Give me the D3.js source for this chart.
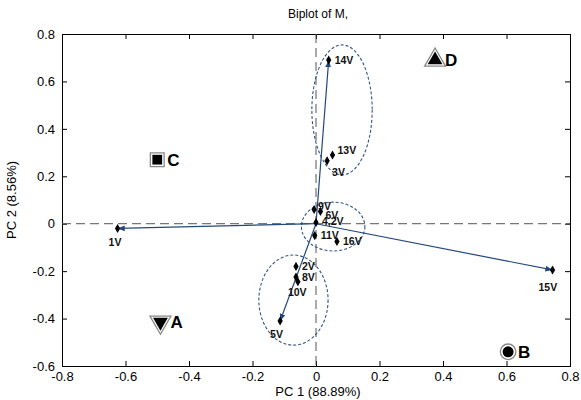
<!DOCTYPE html>
<html>
<head>
<meta charset="utf-8">
<script src="https://cdn.jsdelivr.net/npm/d3@7"></script>
<style>
  body { margin: 0; background: #fff; }
  text { font-family: "Liberation Sans", Arial, sans-serif; }
</style>
</head>
<body>
<svg id="chart" width="581" height="400"></svg>
<script>
// variable loadings (PC1, PC2)
var varNames = ["1V", "2V", "3V", "4,2V", "5V", "6V", "8V", "9V", "10V", "11V", "13V", "14V", "15V", "16V"];
var pc1 = [-0.625, -0.063, 0.035, 0.0, -0.113, 0.014, -0.063, -0.006, -0.057, -0.004, 0.052, 0.04, 0.745, 0.066];
var pc2 = [-0.02, -0.18, 0.265, 0.005, -0.41, 0.052, -0.225, 0.06, -0.245, -0.05, 0.29, 0.69, -0.195, -0.075];
// only these loadings have a drawn vector
var vectorNames = ["1V", "5V", "14V", "15V"];

// group markers
var groupNames = ["A", "B", "C", "D"];
var groupPc1 = [-0.49, 0.605, -0.5, 0.375];
var groupPc2 = [-0.415, -0.54, 0.27, 0.69];

// dashed ellipses round the clusters (centre and radii in data units)
var ellCx = [0.082, 0.054, -0.071];
var ellCy = [0.48, -0.012, -0.322];
var ellRx = [0.095, 0.1, 0.109];
var ellRy = [0.274, 0.103, 0.19];

var xTicks = [-0.8, -0.6, -0.4, -0.2, 0, 0.2, 0.4, 0.6, 0.8];
var yTicks = [-0.6, -0.4, -0.2, 0, 0.2, 0.4, 0.6, 0.8];

var LEFT = 62, RIGHT = 570, TOP = 34, BOTTOM = 366;
var BLUE = '#24487c';

// label offsets (px) where the label is not just to the right
var labelOff = {
  "1V": [-9, 14], "15V": [-14, 17], "10V": [-10, 11], "5V": [-10, 13],
  "3V": [5, 11], "13V": [5, -5], "9V": [4, -3], "6V": [5, 4], "4,2V": [6, -1]
};

var svg = d3.select('#chart');
var x = d3.scaleLinear().domain([-0.8, 0.8]).range([LEFT, RIGHT]);
var y = d3.scaleLinear().domain([-0.6, 0.8]).range([BOTTOM, TOP]);
var fmt = function (d) { return d === 0 ? '0' : d.toFixed(1) };
var idx = function (n) { return varNames.indexOf(n) };

svg.append('defs').append('marker')
  .attr('id', 'arr')
  .attr('viewBox', '0 0 10 10')
  .attr('refX', 10).attr('refY', 5)
  .attr('markerWidth', 6).attr('markerHeight', 6)
  .attr('orient', 'auto')
  .append('path').attr('d', 'M0,1 L10,5 L0,9 Z').attr('fill', BLUE);

// axes, MATLAB style with inward ticks on all four sides
svg.append('g').attr('transform', 'translate(0,' + BOTTOM + ')')
  .call(d3.axisBottom(x).tickValues(xTicks).tickFormat(fmt).tickSize(-5).tickPadding(6));
svg.append('g').attr('transform', 'translate(0,' + TOP + ')')
  .call(d3.axisTop(x).tickValues(xTicks).tickFormat('').tickSize(-5));
svg.append('g').attr('transform', 'translate(' + LEFT + ',0)')
  .call(d3.axisLeft(y).tickValues(yTicks).tickFormat(fmt).tickSize(-5).tickPadding(7));
svg.append('g').attr('transform', 'translate(' + RIGHT + ',0)')
  .call(d3.axisRight(y).tickValues(yTicks).tickFormat('').tickSize(-5));
svg.selectAll('.tick text').attr('font-size', 13).attr('fill', '#000')
  .style('font-family', '"Liberation Sans", Arial, sans-serif');
svg.selectAll('.domain').attr('stroke', '#000');
svg.selectAll('.tick line').attr('stroke', '#000');

// zero lines
svg.append('line').attr('x1', x(-0.8)).attr('x2', x(0.8)).attr('y1', y(0)).attr('y2', y(0))
  .attr('stroke', '#555').attr('stroke-dasharray', '9,5');
svg.append('line').attr('x1', x(0)).attr('x2', x(0)).attr('y1', y(0.8)).attr('y2', y(-0.6))
  .attr('stroke', '#555').attr('stroke-dasharray', '9,5');

// titles
svg.append('text').attr('x', 318).attr('y', 18).attr('text-anchor', 'middle')
  .attr('font-size', 12).text('Biplot of M,');
svg.append('text').attr('x', 318).attr('y', 396).attr('text-anchor', 'middle')
  .attr('font-size', 13).text('PC 1 (88.89%)');
svg.append('text').attr('transform', 'translate(16,' + (TOP + BOTTOM) / 2 + ') rotate(-90)')
  .attr('text-anchor', 'middle').attr('font-size', 13).text('PC 2 (8.56%)');

// ellipses
svg.append('g').selectAll('ellipse')
  .data(ellCx)
  .join('ellipse')
  .attr('cx', function (d) { return x(d) })
  .attr('cy', function (d, i) { return y(ellCy[i]) })
  .attr('rx', function (d, i) { return x(ellRx[i]) - x(0) })
  .attr('ry', function (d, i) { return y(0) - y(ellRy[i]) })
  .attr('fill', 'none').attr('stroke', '#335587').attr('stroke-width', 1.1)
  .attr('stroke-dasharray', '3,2');

// vectors from origin
svg.append('g').selectAll('line')
  .data(vectorNames)
  .join('line')
  .attr('x1', x(0)).attr('y1', y(0))
  .attr('x2', function (d) { return x(pc1[idx(d)]) })
  .attr('y2', function (d) { return y(pc2[idx(d)]) })
  .attr('stroke', BLUE).attr('stroke-width', 1.2)
  .attr('marker-end', 'url(#arr)');

// variable points
svg.append('g').selectAll('path')
  .data(varNames)
  .join('path')
  .attr('d', d3.symbol(d3.symbolDiamond, 24))
  .attr('transform', function (d, i) { return 'translate(' + x(pc1[i]) + ',' + y(pc2[i]) + ')' })
  .attr('fill', '#000');

svg.append('g').selectAll('text')
  .data(varNames)
  .join('text')
  .attr('x', function (d, i) { return x(pc1[i]) + (labelOff[d] ? labelOff[d][0] : 6) })
  .attr('y', function (d, i) { return y(pc2[i]) + (labelOff[d] ? labelOff[d][1] : 0) })
  .attr('dy', '0.35em')
  .attr('font-size', 10.5).attr('font-weight', 'bold').attr('fill', '#111')
  .text(function (d) { return d });

// group markers A-D
var shapes = [d3.symbolTriangle, d3.symbolCircle, d3.symbolSquare, d3.symbolTriangle];
var rot = [180, 0, 0, 0];
var gg = svg.append('g').selectAll('g')
  .data(groupNames)
  .join('g')
  .attr('transform', function (d, i) { return 'translate(' + x(groupPc1[i]) + ',' + y(groupPc2[i]) + ')' });
gg.append('path')
  .attr('d', function (d, i) { return d3.symbol(shapes[i], 190)() })
  .attr('transform', function (d, i) { return 'rotate(' + rot[i] + ')' })
  .attr('fill', '#fff').attr('stroke', '#888').attr('stroke-width', 1.3);
gg.append('path')
  .attr('d', function (d, i) { return d3.symbol(shapes[i], 95)() })
  .attr('transform', function (d, i) { return 'rotate(' + rot[i] + ')' })
  .attr('fill', '#000');
gg.append('text')
  .attr('x', 10).attr('dy', '0.36em')
  .attr('font-size', 17).attr('font-weight', 'bold')
  .text(function (d) { return d });
</script>
</body>
</html>
